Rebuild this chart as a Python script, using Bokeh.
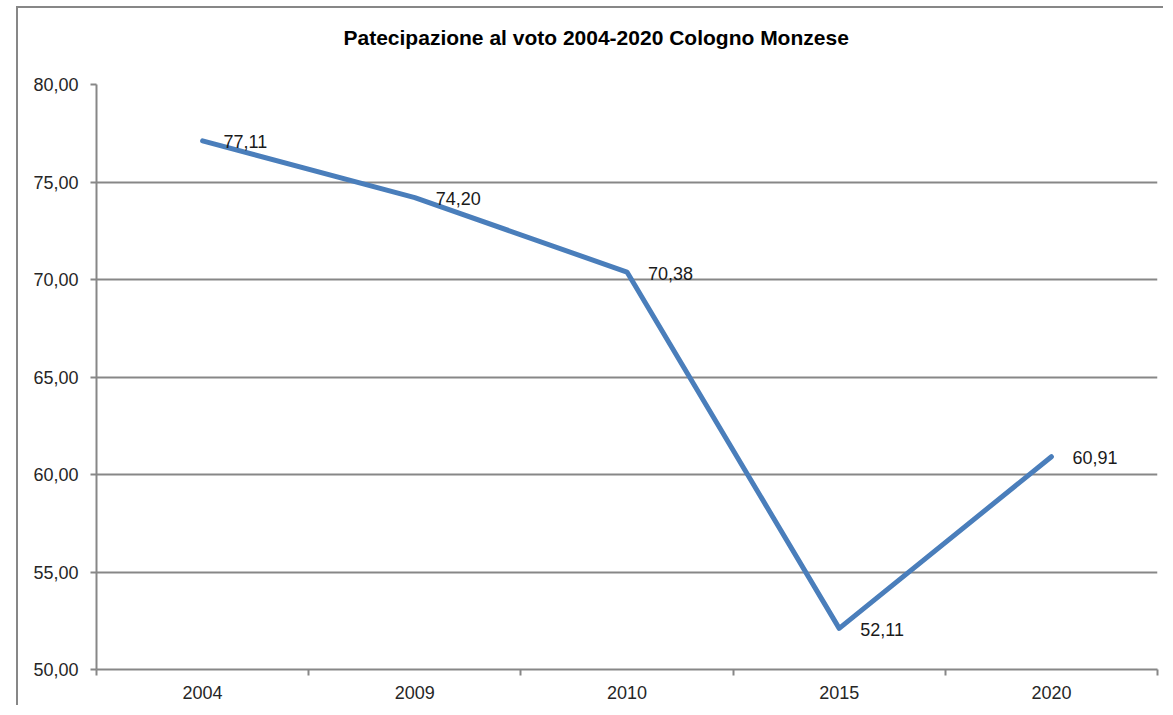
from bokeh.plotting import figure
from bokeh.models import Range1d, FixedTicker, ColumnDataSource, Title
from bokeh.core.properties import value
from bokeh.embed import file_html
from bokeh.resources import INLINE

# ---- data ----
years = ["2004", "2009", "2010", "2015", "2020"]
turnout = [77.11, 74.20, 70.38, 52.11, 60.91]
turnout_labels = ["77,11", "74,20", "70,38", "52,11", "60,91"]
y_ticks = [50, 55, 60, 65, 70, 75, 80]
y_tick_labels = ["50,00", "55,00", "60,00", "65,00", "70,00", "75,00", "80,00"]
title_text = "Patecipazione al voto 2004-2020 Cologno Monzese"

GRAY = "#878787"
FONT = "Liberation Sans"

xs = [i + 0.5 for i in range(len(years))]
src = ColumnDataSource(dict(x=xs, y=turnout, lab=turnout_labels))

p = figure(width=1147, height=699, output_backend="svg", toolbar_location=None,
           x_range=Range1d(0, len(years)), y_range=Range1d(50, 80),
           min_border_left=78, min_border_right=8, min_border_top=76, min_border_bottom=38)
p.outline_line_color = None
p.background_fill_color = "white"
p.border_fill_color = "white"
# chart border (only the top and left edges are visible in the reference)
p.styles = {"margin-left": "16px", "margin-top": "6px",
            "border-left": "2px solid " + GRAY, "border-top": "2px solid " + GRAY}

# spacer between frame and title, then the title itself
p.add_layout(Title(text=" ", text_font_size="10px", standoff=22), "above")
p.add_layout(Title(text=title_text, text_font=FONT, text_font_size="21px",
                   text_font_style="bold", text_color="#000000",
                   align="left", offset=247, standoff=0, vertical_align="middle"), "above")

# grid
p.xgrid.grid_line_color = None
p.ygrid.grid_line_color = GRAY
p.ygrid.grid_line_width = 2
p.ygrid.ticker = FixedTicker(ticks=y_ticks)

# y axis
p.yaxis.ticker = FixedTicker(ticks=y_ticks)
p.yaxis.major_label_overrides = {t: l for t, l in zip(y_ticks, y_tick_labels)}
p.yaxis.axis_line_color = GRAY
p.yaxis.axis_line_width = 2
p.yaxis.major_tick_line_color = GRAY
p.yaxis.major_tick_line_width = 2
p.yaxis.major_tick_out = 6
p.yaxis.major_tick_in = 0
p.yaxis.minor_tick_line_color = None
p.yaxis.major_label_standoff = 12
p.yaxis.major_label_text_font = FONT
p.yaxis.major_label_text_font_size = "18px"
p.yaxis.major_label_text_color = "#262626"

# x axis: labels at category centres, tick marks at boundaries
p.xaxis.ticker = FixedTicker(ticks=xs, minor_ticks=list(range(len(years) + 1)))
p.xaxis.major_label_overrides = {x: y for x, y in zip(xs, years)}
p.xaxis.axis_line_color = GRAY
p.xaxis.axis_line_width = 2
p.xaxis.major_tick_line_color = None
p.xaxis.major_tick_out = 0
p.xaxis.major_tick_in = 0
p.xaxis.minor_tick_line_color = GRAY
p.xaxis.minor_tick_line_width = 2
p.xaxis.minor_tick_out = 6
p.xaxis.minor_tick_in = 0
p.xaxis.major_label_standoff = 10
p.xaxis.major_label_text_font = FONT
p.xaxis.major_label_text_font_size = "18px"
p.xaxis.major_label_text_color = "#262626"

# line
p.line("x", "y", source=src, line_color="#4A7EBB", line_width=5,
       line_cap="round", line_join="round")

# data labels
p.text("x", "y", text="lab", source=src, x_offset=21, y_offset=1,
       text_font=value(FONT), text_font_size="18px", text_color="#1a1a1a",
       text_baseline="middle", text_align="left")

open("out.html", "w").write(file_html(p, INLINE))
